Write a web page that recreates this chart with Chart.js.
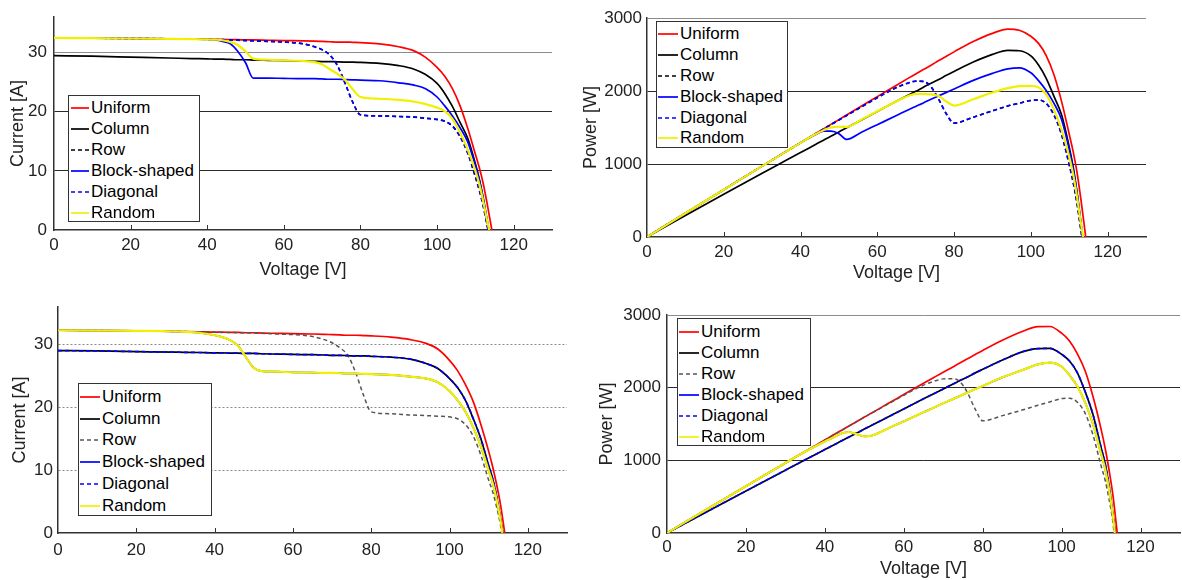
<!DOCTYPE html>
<html>
<head>
<meta charset="utf-8">
<title>I-V and P-V curves under partial shading</title>
<script src="https://cdn.jsdelivr.net/npm/chart.js@4.4.1/dist/chart.umd.min.js"></script>
<style>
  html, body { margin: 0; padding: 0; background: #fff; }
  body { position: relative; width: 1182px; height: 580px; overflow: hidden; font-family: "Liberation Sans", Arial, sans-serif; }
  canvas { position: absolute; }
  .legend { position: absolute; box-sizing: border-box; border: 1px solid #333; background: #fff; }
  .legend .item { position: absolute; left: 0; right: 0; height: 20px; font-size: 17px; line-height: 20px; color: #000; white-space: nowrap; }
  .legend svg { position: absolute; top: 0; left: 0; }
  .legend span { position: absolute; top: 0; }
</style>
</head>
<body>
<canvas id="c1"></canvas>
<canvas id="c2"></canvas>
<canvas id="c3"></canvas>
<canvas id="c4"></canvas>
<script>
const seriesNames = ["Uniform", "Column", "Row", "Block-shaped", "Diagonal", "Random"];

const voltageTicks = [0, 20, 40, 60, 80, 100, 120];
const currentTicks = [0, 10, 20, 30];
const powerTicks = [0, 1000, 2000, 3000];

// voltage samples [V] shared by every curve
const voltage = [0, 10, 20, 30, 36, 40, 42, 44, 46, 48, 50, 52, 56, 60, 65, 68, 70, 72, 74, 76, 78, 80, 85, 90, 94, 97, 100, 102, 104, 106, 108, 110, 111, 112, 113];

// open-circuit voltage of each curve (where it reaches zero)
const vocTop = [114.3, 113.5, 113.3, 113.5, 113.3, 113.6];
const vocBottom = [114.1, 113.6, 113.3, 113.5, 113.6, 113.5];

// ---- top row: current [A]
const uniformItop = [32.5, 32.45, 32.4, 32.35, 32.3, 32.3, 32.25, 32.25, 32.2, 32.2, 32.15, 32.15, 32.1, 32.05, 32.0, 31.95, 31.9, 31.85, 31.8, 31.8, 31.75, 31.7, 31.5, 31.0, 30.3, 29.2, 27.5, 26.0, 23.9, 21.0, 17.2, 12.8, 10.6, 8.0, 4.7];
const columnItop = [29.5, 29.4, 29.25, 29.1, 29.0, 28.95, 28.9, 28.9, 28.85, 28.8, 28.8, 28.75, 28.7, 28.65, 28.6, 28.55, 28.5, 28.5, 28.45, 28.4, 28.4, 28.35, 28.2, 27.8, 27.2, 26.3, 24.8, 23.1, 20.9, 18.2, 15.5, 11.2, 8.7, 5.6, 1.9];
const diagItop = [32.5, 32.45, 32.4, 32.35, 32.3, 32.25, 32.2, 32.2, 32.15, 32.1, 32.05, 32.0, 31.9, 31.8, 31.5, 31.0, 30.5, 29.6, 27.8, 24.8, 21.6, 19.5, 19.3, 19.2, 19.1, 18.9, 18.7, 18.4, 17.6, 15.8, 13.0, 9.0, 6.8, 4.2, 1.0];
const rowItop = diagItop; // row curve sits under the diagonal one
const blockItop = [32.5, 32.45, 32.4, 32.35, 32.3, 32.25, 32.15, 31.9, 31.5, 30.2, 28.3, 25.7, 25.7, 25.65, 25.6, 25.6, 25.55, 25.5, 25.5, 25.45, 25.4, 25.35, 25.25, 24.9, 24.5, 23.9, 22.5, 21.0, 19.3, 17.3, 14.9, 10.9, 8.5, 5.4, 1.8];
const randomItop = [32.5, 32.45, 32.4, 32.35, 32.3, 32.25, 32.2, 32.1, 31.8, 31.3, 30.2, 29.0, 28.8, 28.7, 28.6, 28.4, 28.0, 27.2, 26.4, 25.4, 23.8, 22.5, 22.2, 22.0, 21.7, 21.3, 20.7, 20.1, 18.8, 16.5, 13.6, 10.0, 7.8, 5.0, 1.8];

// ---- top row: power [W]
const uniformPtop = [0, 325, 648, 971, 1163, 1292, 1355, 1419, 1481, 1546, 1608, 1672, 1798, 1923, 2080, 2173, 2233, 2293, 2353, 2417, 2477, 2536, 2678, 2790, 2848, 2832, 2750, 2652, 2486, 2226, 1858, 1408, 1177, 896, 531];
const columnPtop = [0, 294, 585, 873, 1044, 1158, 1214, 1272, 1327, 1382, 1440, 1495, 1607, 1719, 1859, 1941, 1995, 2052, 2105, 2158, 2215, 2268, 2397, 2502, 2557, 2551, 2480, 2356, 2174, 1929, 1674, 1232, 966, 627, 215];
const diagPtop = [0, 325, 648, 971, 1163, 1290, 1352, 1417, 1479, 1541, 1603, 1664, 1786, 1908, 2048, 2108, 2135, 2131, 2057, 1885, 1685, 1560, 1641, 1728, 1795, 1833, 1870, 1877, 1830, 1675, 1404, 990, 755, 470, 113];
const rowPtop = diagPtop;
const blockPtop = [0, 325, 648, 971, 1163, 1290, 1350, 1404, 1449, 1450, 1415, 1336, 1439, 1539, 1664, 1741, 1789, 1836, 1887, 1934, 1981, 2028, 2146, 2241, 2303, 2318, 2250, 2142, 2007, 1834, 1609, 1199, 944, 605, 203];
const randomPtop = [0, 325, 648, 971, 1163, 1290, 1352, 1412, 1463, 1502, 1510, 1508, 1613, 1722, 1859, 1931, 1960, 1958, 1954, 1930, 1856, 1800, 1887, 1980, 2040, 2066, 2070, 2050, 1955, 1749, 1469, 1100, 866, 560, 203];

// ---- bottom row: current [A]
const uniformIbot = [32.3, 32.25, 32.2, 32.1, 32.05, 32.0, 32.0, 31.95, 31.95, 31.9, 31.9, 31.85, 31.8, 31.75, 31.7, 31.65, 31.6, 31.55, 31.5, 31.5, 31.45, 31.4, 31.2, 30.8, 30.2, 29.3, 27.5, 25.9, 23.7, 21.0, 17.3, 13.0, 10.6, 7.8, 4.6];
const columnIbot = [29.05, 29.0, 28.9, 28.8, 28.75, 28.7, 28.7, 28.65, 28.65, 28.6, 28.6, 28.55, 28.5, 28.45, 28.4, 28.35, 28.3, 28.3, 28.25, 28.2, 28.2, 28.15, 28.0, 27.7, 27.0, 26.2, 24.6, 23.2, 21.2, 18.3, 15.0, 10.7, 8.7, 5.9, 2.3];
const rowIbot = [32.3, 32.25, 32.2, 32.1, 32.05, 32.0, 31.95, 31.95, 31.9, 31.9, 31.85, 31.8, 31.7, 31.6, 31.3, 30.8, 30.3, 29.5, 28.3, 25.6, 22.0, 19.3, 19.0, 18.8, 18.7, 18.6, 18.5, 18.2, 17.3, 15.5, 12.4, 8.4, 6.6, 4.2, 1.3];
const randomIbot = [32.3, 32.25, 32.2, 32.1, 31.9, 31.5, 31.2, 30.7, 29.8, 28.0, 26.3, 25.8, 25.7, 25.6, 25.55, 25.5, 25.5, 25.45, 25.4, 25.4, 25.35, 25.3, 25.2, 24.9, 24.6, 24.0, 22.6, 21.2, 19.4, 16.9, 13.8, 9.9, 8.0, 5.4, 2.1];
const blockIbot = randomIbot; // hidden under random
const diagIbot = columnIbot;  // hidden under column

// ---- bottom row: power [W]
const uniformPbot = [0, 323, 644, 963, 1154, 1280, 1344, 1406, 1470, 1531, 1595, 1656, 1781, 1905, 2061, 2152, 2212, 2272, 2331, 2394, 2453, 2512, 2652, 2772, 2839, 2842, 2750, 2642, 2465, 2226, 1868, 1430, 1177, 874, 520];
const columnPbot = [0, 290, 578, 864, 1035, 1148, 1205, 1261, 1318, 1373, 1430, 1485, 1596, 1707, 1846, 1928, 1981, 2038, 2091, 2143, 2200, 2252, 2380, 2493, 2538, 2541, 2460, 2366, 2205, 1940, 1620, 1177, 966, 661, 260];
const rowPbot = [0, 323, 644, 963, 1154, 1280, 1342, 1406, 1467, 1531, 1593, 1654, 1775, 1896, 2035, 2094, 2121, 2124, 2094, 1946, 1716, 1544, 1615, 1692, 1758, 1804, 1850, 1856, 1799, 1643, 1339, 924, 733, 470, 147];
const randomPbot = [0, 323, 644, 963, 1148, 1260, 1310, 1365, 1390, 1360, 1330, 1342, 1439, 1536, 1661, 1734, 1785, 1832, 1880, 1930, 1977, 2024, 2142, 2241, 2320, 2345, 2290, 2170, 2018, 1791, 1490, 1089, 888, 605, 237];
const blockPbot = randomPbot;
const diagPbot = columnPbot;

// line styles
const colorsTop = ["#ff0000", "#000000", "#000000", "#0000ff", "#0000ff", "#f0f000"];
const colorsBottom = ["#ff0000", "#000000", "#555555", "#0000ff", "#0000ff", "#f0f000"];
const dashes = [null, null, [4, 3], null, [4, 3], null];
const widths = [1.7, 1.7, 1.5, 1.7, 1.7, 2.2];

const FONT = "'Liberation Sans', Arial, sans-serif";

// small upward tick marks on the voltage axis
const innerTicks = {
  id: "innerTicks",
  afterDatasetsDraw(chart) {
    const { ctx, scales: { x, y } } = chart;
    ctx.save();
    ctx.strokeStyle = "#333";
    ctx.lineWidth = 1;
    voltageTicks.forEach(v => {
      if (v === 0) return;
      const px = Math.round(x.getPixelForValue(v)) + 0.5;
      ctx.beginPath();
      ctx.moveTo(px, y.bottom);
      ctx.lineTo(px, y.bottom - 5);
      ctx.stroke();
    });
    ctx.restore();
  }
};

function makeChart(p) {
  const canvas = document.getElementById(p.id);
  const [bx, by, bw, bh] = p.box;
  canvas.width = bw;
  canvas.height = bh;
  canvas.style.left = bx + "px";
  canvas.style.top = by + "px";

  const datasets = seriesNames.map((name, i) => ({
    label: name,
    data: voltage.map((v, k) => ({ x: v, y: p.values[i][k] })).concat([{ x: p.voc[i], y: 0 }]),
    borderColor: p.colors[i],
    borderWidth: widths[i],
    borderDash: dashes[i] || [],
    pointRadius: 0,
    cubicInterpolationMode: "monotone",
    fill: false,
    order: seriesNames.length - i
  }));

  const topTick = p.yTicks[p.yTicks.length - 1];

  new Chart(canvas, {
    type: "line",
    data: { datasets },
    options: {
      responsive: false,
      animation: false,
      devicePixelRatio: 1,
      layout: { padding: { left: 0, top: p.area.top - by, right: bx + bw - p.area.right, bottom: 0 } },
      plugins: { legend: { display: false }, tooltip: { enabled: false } },
      scales: {
        x: {
          type: "linear",
          min: 0,
          max: 130,
          afterBuildTicks: s => { s.ticks = voltageTicks.map(v => ({ value: v })); },
          afterFit: s => { s.height = by + bh - p.area.bottom; },
          grid: { drawOnChartArea: false, drawTicks: false },
          border: { display: true, color: "#333", width: 1.5 },
          ticks: { color: "#222", font: { family: FONT, size: 17 }, padding: p.xPad, maxRotation: 0, callback: v => String(v) },
          title: {
            display: p.xTitle,
            text: "Voltage [V]",
            color: "#222",
            font: { family: FONT, size: 18 },
            padding: { top: 0, bottom: p.xTitlePad }
          }
        },
        y: {
          type: "linear",
          min: 0,
          max: p.yMax,
          afterBuildTicks: s => { s.ticks = p.yTicks.map(v => ({ value: v })); },
          afterFit: s => { s.width = p.area.left - bx; },
          grid: {
            drawTicks: false,
            lineWidth: 1,
            color: c => {
              const v = c.tick ? c.tick.value : -1;
              if (v === 0) return "rgba(0,0,0,0)";
              if (p.dotted) return "#8a8a8a";
              return v === topTick ? "#8c8c8c" : "#2a2a2a";
            }
          },
          border: { display: true, color: "#333", width: 1.5, dash: p.dotted ? [2, 2] : [] },
          ticks: { color: "#222", font: { family: FONT, size: 17 }, padding: p.yPad, callback: v => String(v) },
          title: {
            display: true,
            text: p.yTitle,
            color: "#222",
            font: { family: FONT, size: 18 },
            padding: { top: p.yTitlePad, bottom: 0 }
          }
        }
      }
    },
    plugins: [innerTicks]
  });
}

function makeLegend(L, colors) {
  const box = document.createElement("div");
  box.className = "legend";
  box.style.left = L.left + "px";
  box.style.top = L.top + "px";
  box.style.width = L.width + "px";
  box.style.height = L.height + "px";
  seriesNames.forEach((name, i) => {
    const item = document.createElement("div");
    item.className = "item";
    item.style.top = (L.first + i * L.step - 10) + "px";
    const dash = dashes[i] ? 'stroke-dasharray="4 3"' : "";
    item.innerHTML =
      '<svg width="' + L.textX + '" height="20"><line x1="' + L.x0 + '" y1="10" x2="' + L.x1 +
      '" y2="10" stroke="' + colors[i] + '" stroke-width="1.7" ' + dash + "/></svg>" +
      '<span style="left:' + L.textX + 'px">' + name + "</span>";
    box.appendChild(item);
  });
  document.body.appendChild(box);
}

makeChart({
  id: "c1", box: [0, 0, 580, 290], area: { left: 54, right: 552, top: 13, bottom: 230 },
  yMax: 36, yTicks: currentTicks, yTitle: "Current [A]", xTitle: true,
  xPad: 5.5, yPad: 7, xTitlePad: 9, yTitlePad: 7,
  values: [uniformItop, columnItop, rowItop, blockItop, diagItop, randomItop],
  voc: vocTop, colors: colorsTop, dotted: false
});
makeChart({
  id: "c2", box: [580, 0, 602, 290], area: { left: 647, right: 1146, top: 18, bottom: 237 },
  yMax: 3000, yTicks: powerTicks, yTitle: "Power [W]", xTitle: true,
  xPad: 5, yPad: 5, xTitlePad: 6, yTitlePad: 0,
  values: [uniformPtop, columnPtop, rowPtop, blockPtop, diagPtop, randomPtop],
  voc: vocTop, colors: colorsTop, dotted: false
});
makeChart({
  id: "c3", box: [0, 290, 580, 290], area: { left: 58, right: 567, top: 307, bottom: 533 },
  yMax: 36, yTicks: currentTicks, yTitle: "Current [A]", xTitle: false,
  xPad: 7, yPad: 5, xTitlePad: 0, yTitlePad: 9,
  values: [uniformIbot, columnIbot, rowIbot, blockIbot, diagIbot, randomIbot],
  voc: vocBottom, colors: colorsBottom, dotted: true
});
makeChart({
  id: "c4", box: [580, 290, 602, 290], area: { left: 667, right: 1180, top: 315, bottom: 533 },
  yMax: 3000, yTicks: powerTicks, yTitle: "Power [W]", xTitle: true,
  xPad: 4.5, yPad: 6, xTitlePad: 0, yTitlePad: 16,
  values: [uniformPbot, columnPbot, rowPbot, blockPbot, diagPbot, randomPbot],
  voc: vocBottom, colors: colorsBottom, dotted: false
});

makeLegend({ left: 68, top: 95, width: 132, height: 127, first: 12, step: 21, x0: 2, x1: 20, textX: 22 }, colorsTop);
makeLegend({ left: 656, top: 21, width: 132, height: 127, first: 12.3, step: 20.8, x0: 1, x1: 21, textX: 23 }, colorsTop);
makeLegend({ left: 78, top: 383, width: 134, height: 133, first: 13, step: 21.7, x0: 1, x1: 21, textX: 23 }, colorsBottom);
makeLegend({ left: 677, top: 318, width: 134, height: 128, first: 12.7, step: 21, x0: 1, x1: 21, textX: 23 }, colorsBottom);
</script>
</body>
</html>
